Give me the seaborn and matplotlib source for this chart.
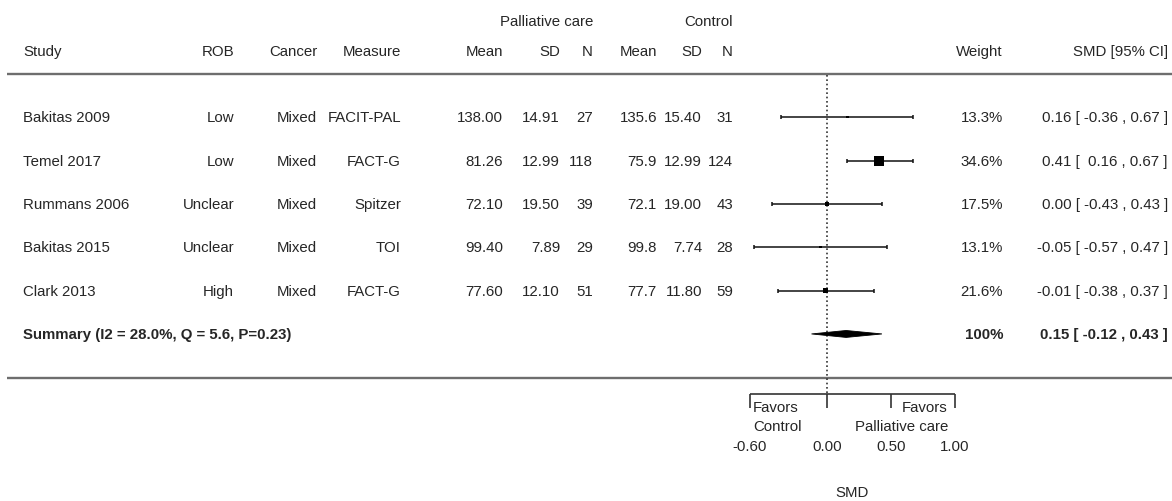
import numpy as np
import pandas as pd
import matplotlib
matplotlib.use("Agg")
import matplotlib.pyplot as plt
import matplotlib.transforms as mtransforms
import seaborn as sns

# ---------------- data ----------------
studies = ["Bakitas 2009", "Temel 2017", "Rummans 2006", "Bakitas 2015", "Clark 2013"]
rob = ["Low", "Low", "Unclear", "Unclear", "High"]
cancer = ["Mixed", "Mixed", "Mixed", "Mixed", "Mixed"]
measure = ["FACIT-PAL", "FACT-G", "Spitzer", "TOI", "FACT-G"]
pc_mean = [138.00, 81.26, 72.10, 99.40, 77.60]
pc_sd = [14.91, 12.99, 19.50, 7.89, 12.10]
pc_n = [27, 118, 39, 29, 51]
ct_mean = [135.6, 75.9, 72.1, 99.8, 77.7]
ct_sd = [15.40, 12.99, 19.00, 7.74, 11.80]
ct_n = [31, 124, 43, 28, 59]
weight = [13.3, 34.6, 17.5, 13.1, 21.6]
smd = [0.16, 0.41, 0.00, -0.05, -0.01]
ci_lo = [-0.36, 0.16, -0.43, -0.57, -0.38]
ci_hi = [0.67, 0.67, 0.43, 0.47, 0.37]
sum_smd, sum_lo, sum_hi = 0.15, -0.12, 0.43
sum_weight = "100%"
i2, q_stat, p_val = 28.0, 5.6, 0.23
axis_ticks = [-0.60, 0.00, 0.50, 1.00]
favors_left = "Favors\nControl"
favors_right = "Favors\nPalliative care"
xlabel = "SMD"

df = pd.DataFrame({"study": studies, "smd": smd, "lo": ci_lo, "hi": ci_hi,
                   "weight": weight})
df["row"] = np.arange(len(df))

# ---------------- style ----------------
sns.set_theme(style="white")
plt.rcParams["font.family"] = ["Liberation Sans", "DejaVu Sans"]
FS = 10.8
TXT = "#262626"

W, H = 1172, 502
fig = plt.figure(figsize=(W / 100, H / 100), dpi=100)
ax = fig.add_axes([0, 0, 1, 1])
ax.set_axis_off()

# layout: pixel anchors of the first/last axis tick, row pixel positions
tick_px0, tick_px1 = 750.0, 955.0
scale = (tick_px1 - tick_px0) / (axis_ticks[-1] - axis_ticks[0])
zero_px = tick_px0 - axis_ticks[0] * scale
ax.set_xlim(-zero_px / scale, (W - zero_px) / scale)
row0_px, row_step = 118.3, 43.33
ax.set_ylim((H - row0_px) / row_step, -row0_px / row_step)

# text transform: x in figure-pixel fraction, y in row units
tr = mtransforms.blended_transform_factory(ax.transAxes, ax.transData)
def px(x):
    return x / W

# ---------------- header ----------------
y_h1, y_h2 = -2.23, -1.537
ax.text(px(593), y_h1, "Palliative care", transform=tr, ha="right", va="center", fontsize=FS, color=TXT)
ax.text(px(733), y_h1, "Control", transform=tr, ha="right", va="center", fontsize=FS, color=TXT)

cols = [  # (header, right/left x px, align)
    ("Study", 23, "left"), ("ROB", 234, "right"), ("Cancer", 317, "right"),
    ("Measure", 401, "right"), ("Mean", 503, "right"), ("SD", 560, "right"),
    ("N", 593, "right"), ("Mean", 657, "right"), ("SD", 702, "right"),
    ("N", 733, "right"), ("Weight", 1003, "right"), ("SMD [95% CI]", 1168, "right"),
]
for name, xp, ha in cols:
    ax.text(px(xp), y_h2, name, transform=tr, ha=ha, va="center", fontsize=FS, color=TXT)

# ---------------- table rows ----------------
for i in range(len(studies)):
    vals = [studies[i], rob[i], cancer[i], measure[i],
            f"{pc_mean[i]:.2f}", f"{pc_sd[i]:.2f}", f"{pc_n[i]}",
            f"{ct_mean[i]:.1f}", f"{ct_sd[i]:.2f}", f"{ct_n[i]}",
            f"{weight[i]:.1f}%",
            f"{smd[i]:.2f} [ {ci_lo[i]: .2f} , {ci_hi[i]:.2f} ]".replace("[  -", "[ -")]
    for (name, xp, ha), v in zip(cols, vals):
        ax.text(px(xp), i, v, transform=tr, ha=ha, va="center", fontsize=FS, color=TXT)

ys = len(studies)
ax.text(px(23), ys, f"Summary (I2 = {i2:.1f}%, Q = {q_stat:.1f}, P={p_val:.2f})",
        transform=tr, ha="left", va="center", fontsize=FS, color=TXT, fontweight="bold")
ax.text(px(1003), ys, sum_weight, transform=tr, ha="right", va="center",
        fontsize=FS, color=TXT, fontweight="bold")
ax.text(px(1168), ys, f"{sum_smd:.2f} [ {sum_lo:.2f} , {sum_hi:.2f} ]", transform=tr,
        ha="right", va="center", fontsize=FS, color=TXT, fontweight="bold")

# ---------------- rules ----------------
ax.hlines([-1.0, ys + 1.02], px(7), 1, transform=tr, color="#6e6e6e", lw=1.7)

# ---------------- forest ----------------
bracket_y = 6.386
ax.vlines(0, -0.97, bracket_y, color="#333333", lw=1.2, linestyles=(0, (1, 1.6)))

ax.errorbar(df["smd"], df["row"],
            xerr=[df["smd"] - df["lo"], df["hi"] - df["smd"]],
            fmt="none", ecolor="#111111", elinewidth=1.1, capsize=1.6, capthick=1.1)
side_pt = 7.2 * (df["weight"] / df["weight"].max()) ** 1.5
sns.scatterplot(data=df, x="smd", y="row", marker="s", s=(side_pt ** 2).tolist(),
                color="black", linewidth=0, ax=ax, legend=False, zorder=5)

dh = 0.08
ax.fill([sum_lo, sum_smd, sum_hi, sum_smd], [ys, ys - dh, ys, ys + dh],
        color="black", lw=0.6, zorder=5)

# bracket axis
ax.hlines(bracket_y, axis_ticks[0], axis_ticks[-1], color="#333333", lw=1.2)
ax.vlines(axis_ticks, bracket_y, bracket_y + 0.32, color="#333333", lw=1.2)
ax.text(axis_ticks[0] + 0.025, 6.906, favors_left, ha="left", va="center",
        fontsize=FS, color=TXT, linespacing=1.42, multialignment="left")
ax.text(axis_ticks[-1] - 0.055, 6.906, favors_right, ha="right", va="center",
        fontsize=FS, color=TXT, linespacing=1.42, multialignment="right")
for t in axis_ticks:
    ax.text(t, 7.585, f"{t:.2f}", ha="center", va="center", fontsize=FS, color=TXT)
ax.text((axis_ticks[0] + axis_ticks[-1]) / 2, 8.646, xlabel, ha="center", va="center",
        fontsize=FS, color=TXT)

fig.savefig("out.png", dpi=100)
